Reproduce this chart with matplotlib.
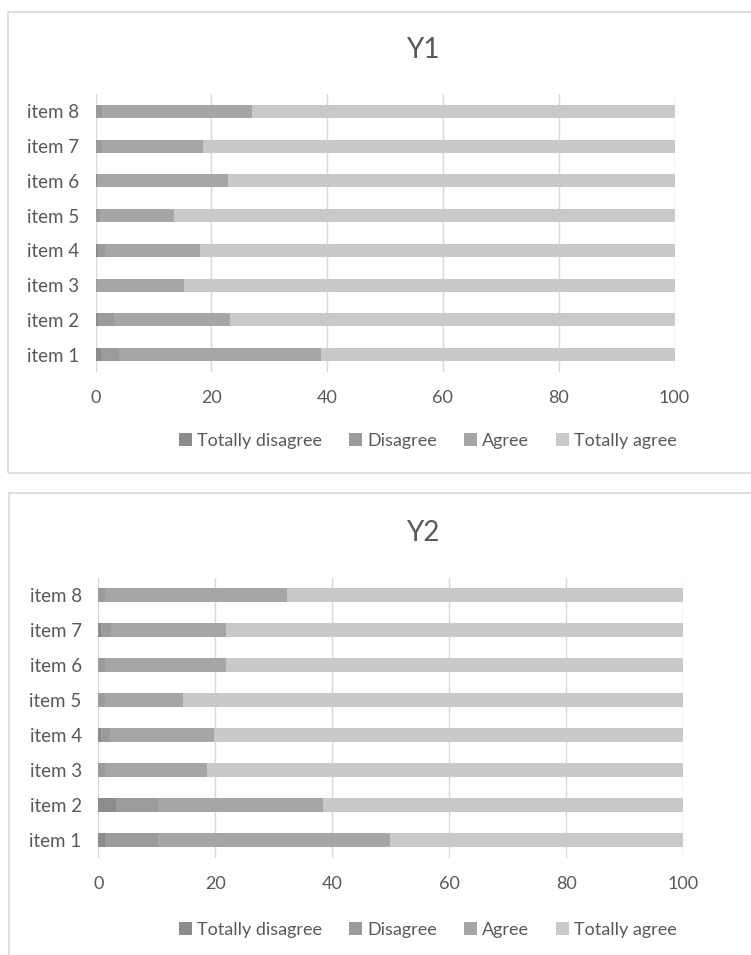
import matplotlib.pyplot as plt
from matplotlib.patches import Rectangle

plt.rcParams['font.family'] = ['Lato', 'DejaVu Sans']

items = ["item 1", "item 2", "item 3", "item 4", "item 5", "item 6", "item 7", "item 8"]
levels = ["Totally disagree", "Disagree", "Agree", "Totally agree"]
colors = ["#8c8c8c", "#9b9b9b", "#a6a6a6", "#c9c9c9"]

# Y1 (percent per answer, item 1..8)
y1_td = [1.0, 0.5, 0.0, 0.4, 0.0, 0.3, 0.0, 0.0]
y1_d = [3.1, 2.7, 0.3, 1.2, 0.7, 0.0, 1.1, 1.2]
y1_a = [34.8, 20.1, 15.0, 16.4, 12.9, 22.5, 17.5, 25.8]
y1_ta = [61.1, 76.7, 84.7, 82.0, 86.4, 77.2, 81.4, 73.0]

# Y2
y2_td = [1.1, 3.0, 0.0, 0.5, 0.0, 0.0, 0.5, 0.0]
y2_d = [9.1, 7.2, 1.1, 1.5, 1.1, 1.1, 1.6, 1.1]
y2_a = [39.6, 28.2, 17.4, 17.8, 13.4, 20.7, 19.7, 31.1]
y2_ta = [50.2, 61.6, 81.5, 80.2, 85.5, 78.2, 78.2, 67.8]

fig = plt.figure(figsize=(7.51, 9.55), dpi=100)
W, H = 751, 955

# panel frames
fig.patches.append(Rectangle((8 / W, 1 - 473 / H), 760 / W, 461 / H, transform=fig.transFigure,
                             fill=False, edgecolor="#d9d9d9", lw=1.2))
fig.patches.append(Rectangle((9 / W, -0.01), 760 / W, 1 - 493 / H + 0.01, transform=fig.transFigure,
                             fill=False, edgecolor="#d9d9d9", lw=1.2))


def draw(rect, title, title_y, legend_y, series):
    ax = fig.add_axes(rect)
    pos = list(range(len(items)))
    left = [0] * len(items)
    handles = []
    for vals, lab, c in zip(series, levels, colors):
        h = ax.barh(pos, vals, left=left, height=0.38, color=c, label=lab)
        handles.append(h)
        left = [l + v for l, v in zip(left, vals)]
    ax.set_xlim(0, 100)
    ax.set_ylim(-0.5, 7.5)
    ax.set_yticks(pos)
    ax.set_yticklabels(items)
    ax.set_xticks([0, 20, 40, 60, 80, 100])
    ax.grid(axis="x", color="#d9d9d9", lw=1)
    ax.set_axisbelow(True)
    for s in ax.spines.values():
        s.set_visible(False)
    ax.tick_params(length=0, labelsize=13.5, colors="#595959", pad=12)
    ax.tick_params(axis="x", labelsize=13, pad=13)
    fig.text(423 / W, 1 - title_y / H, title, ha="center", va="center", fontsize=20, color="#595959")
    fig.legend(handles=handles, loc="center", bbox_to_anchor=(428 / W, 1 - legend_y / H), ncol=4,
               frameon=False, fontsize=13, labelcolor="#595959", handlelength=0.7, handleheight=0.7,
               handletextpad=0.3, columnspacing=1.5)
    return ax


draw([95.5 / W, 1 - 372 / H, 579 / W, 278 / H], "Y1", 50, 441, [y1_td, y1_d, y1_a, y1_ta])
draw([98.3 / W, 1 - 857.5 / H, 585 / W, 280 / H], "Y2", 533, 930, [y2_td, y2_d, y2_a, y2_ta])

fig.savefig("out.png", dpi=100)
